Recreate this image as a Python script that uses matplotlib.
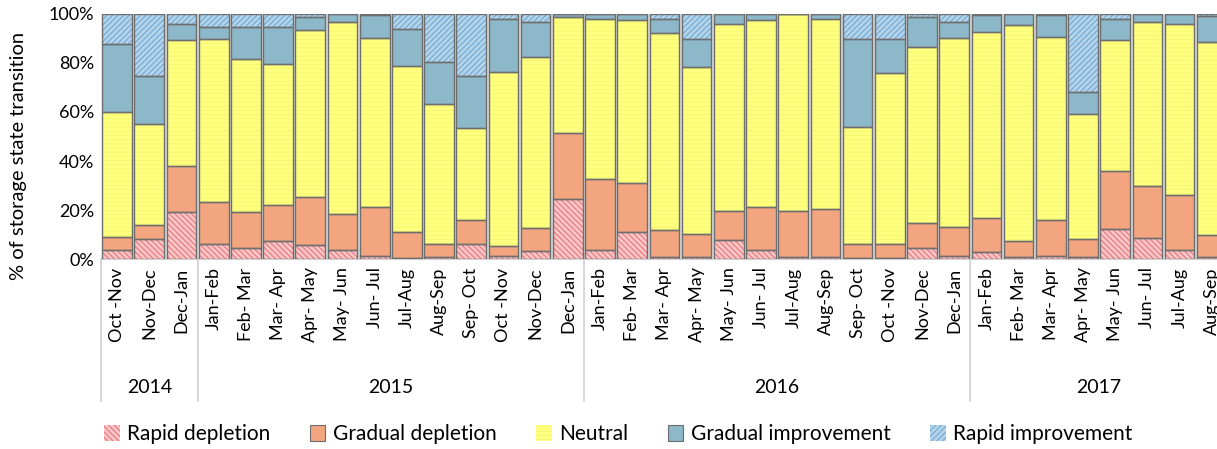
import numpy as np
import matplotlib
matplotlib.use("Agg")
import matplotlib.pyplot as plt
import matplotlib.transforms as mtransforms
from matplotlib.patches import Patch

plt.rcParams['font.family'] = ['Lato', 'DejaVu Sans']
plt.rcParams['hatch.linewidth'] = 0.6

months = ["Oct -Nov", "Nov-Dec", "Dec-Jan",
          "Jan-Feb", "Feb- Mar", "Mar- Apr", "Apr- May", "May- Jun", "Jun- Jul",
          "Jul-Aug", "Aug-Sep", "Sep- Oct", "Oct -Nov", "Nov-Dec", "Dec-Jan",
          "Jan-Feb", "Feb- Mar", "Mar- Apr", "Apr- May", "May- Jun", "Jun- Jul",
          "Jul-Aug", "Aug-Sep", "Sep- Oct", "Oct -Nov", "Nov-Dec", "Dec-Jan",
          "Jan-Feb", "Feb- Mar", "Mar- Apr", "Apr- May", "May- Jun", "Jun- Jul",
          "Jul-Aug", "Aug-Sep"]
years = ["2014", "2015", "2016", "2017"]
yearCounts = [3, 12, 12, 8]

# % of each transition class per period
rapidDepletion = [3.9, 8.0, 19.2, 6.0, 4.6, 7.5, 5.7, 3.7, 1.2, 0.3, 0.7, 6.0,
                  1.2, 3.4, 24.4, 3.9, 11.2, 1.0, 0.7, 7.8, 3.9, 1.0, 1.0, 0.3,
                  0.3, 4.6, 1.2, 2.9, 1.0, 1.2, 0.7, 12.2, 8.4, 3.7, 1.0]
gradualDepletion = [4.9, 5.9, 18.9, 17.1, 14.7, 14.5, 19.7, 14.8, 20.2, 10.9, 5.3, 9.9,
                    4.1, 9.3, 27.2, 28.8, 20.0, 10.8, 9.4, 11.9, 17.5, 18.7, 19.3, 5.7,
                    5.8, 10.0, 11.7, 14.0, 6.5, 14.7, 7.3, 23.7, 21.4, 22.4, 8.8]
neutral = [51.3, 41.2, 51.3, 66.7, 62.2, 57.5, 68.1, 78.0, 68.9, 67.6, 57.3, 37.4,
           70.9, 69.9, 47.3, 65.1, 66.4, 80.3, 68.4, 76.2, 76.2, 80.3, 77.7, 48.0,
           70.0, 72.1, 77.2, 75.6, 88.0, 74.8, 51.2, 53.5, 67.1, 69.8, 78.6]
gradualImprovement = [27.7, 19.6, 6.5, 5.0, 13.3, 15.1, 5.1, 3.5, 9.3, 14.9, 17.2, 21.4,
                      21.8, 14.3, 1.1, 2.2, 2.4, 5.9, 11.3, 4.1, 2.4, 0.0, 2.0, 35.7,
                      13.6, 12.2, 6.8, 7.1, 4.5, 8.9, 8.8, 8.6, 3.1, 4.1, 10.9]
rapidImprovement = [12.2, 25.3, 4.1, 5.2, 5.2, 5.4, 1.4, 0.0, 0.4, 6.3, 19.5, 25.3,
                    2.0, 3.1, 0.0, 0.0, 0.0, 2.0, 10.2, 0.0, 0.0, 0.0, 0.0, 10.3,
                    10.3, 1.1, 3.1, 0.4, 0.0, 0.4, 32.0, 2.0, 0.0, 0.0, 0.7]

seriesNames = ["Rapid depletion", "Gradual depletion", "Neutral",
               "Gradual improvement", "Rapid improvement"]
seriesValues = [rapidDepletion, gradualDepletion, neutral, gradualImprovement, rapidImprovement]
faceColors = ["#f9c4c4", "#f2a57e", "#ffff80", "#8cb8c9", "#b2d3ea"]
hatchColors = ["#e4606c", "#eb9c76", "#f6f66c", "#84b1c2", "#5f9dcc"]
hatches = ["\\\\\\\\\\\\", None, "----", None, "//////"]
outline = "#6e6e6e"

fig = plt.figure(figsize=(12.17, 4.49), dpi=100)
ax = fig.add_axes([0.083, 0.423, 0.926, 0.546])

n = len(months)
x = np.arange(n)
barWidth = 0.92

for i in range(n - 1):
    ax.axvline(i + 0.5, color="#dcdcdc", lw=2.2, zorder=0)

bottom = np.zeros(n)
for name, vals, fc, hc, h in zip(seriesNames, seriesValues, faceColors, hatchColors, hatches):
    vals = np.array(vals)
    ax.bar(x, vals, barWidth, bottom=bottom, color=fc, edgecolor=hc, hatch=h, lw=0, zorder=2)
    ax.bar(x, vals, barWidth, bottom=bottom, fill=False, edgecolor=outline, lw=1.0, zorder=3)
    bottom += vals

ax.set_xlim(-0.5, n - 0.5)
ax.set_ylim(0, 100)
ax.set_yticks([0, 20, 40, 60, 80, 100])
ax.set_yticklabels(["0%", "20%", "40%", "60%", "80%", "100%"], fontsize=13)
ax.set_ylabel("% of storage state transition", fontsize=14.5)
ax.yaxis.set_label_coords(-0.066, 0.42)
ax.set_xticks(x)
ax.set_xticklabels(months, rotation=90, fontsize=13, va="top")
ax.tick_params(axis="both", length=0)
ax.tick_params(axis="x", pad=6)
ax.tick_params(axis="y", pad=5)
for s in ["top", "right", "left"]:
    ax.spines[s].set_visible(False)
ax.spines["bottom"].set_color("#d0d0d0")

# year grouping below month labels
trans = mtransforms.blended_transform_factory(ax.transData, ax.transAxes)
start = 0
edges = [-0.5]
for yr, cnt in zip(years, yearCounts):
    ax.text(start + (cnt - 1) / 2, -0.525, yr, transform=trans, ha="center", va="center", fontsize=14)
    start += cnt
    edges.append(start - 0.5)
for e in edges[:-1]:
    ax.plot([e, e], [0, -0.58], transform=trans, color="#d0d0d0", lw=1.2, clip_on=False)

handles = []
for name, fc, hc, h in zip(seriesNames, faceColors, hatchColors, hatches):
    if h is None:
        handles.append(Patch(facecolor=fc, edgecolor=outline, lw=0.8, label=name))
    else:
        handles.append(Patch(facecolor=fc, edgecolor=hc, hatch=h, lw=0, label=name))
fig.legend(handles=handles, loc="center", bbox_to_anchor=(0.508, 0.033), ncol=5,
           frameon=False, fontsize=15, handlelength=0.75, handleheight=0.75,
           handletextpad=0.35, columnspacing=1.9)

fig.savefig("out.png", dpi=100)
